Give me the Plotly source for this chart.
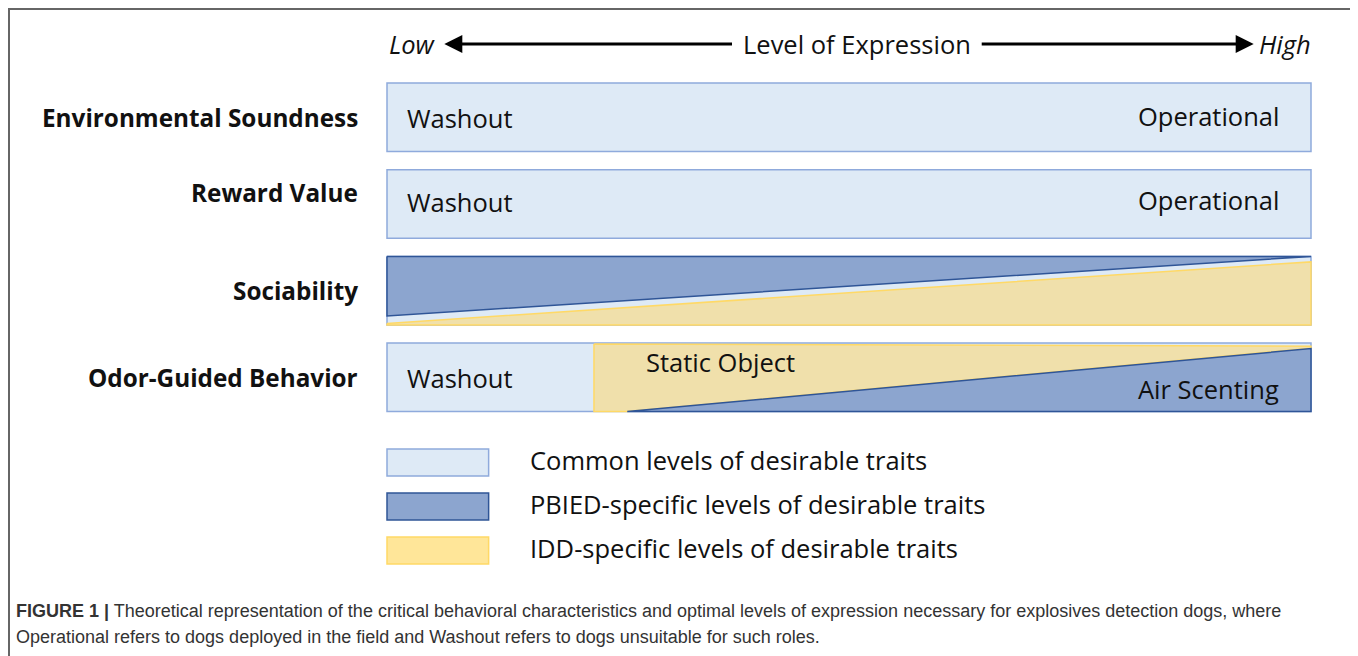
import plotly.graph_objects as go

# ---------------- data ----------------
rows = ["Environmental Soundness", "Reward Value", "Sociability", "Odor-Guided Behavior"]
low_labels = ["Washout", "Washout", "", "Washout"]
high_labels = ["Operational", "Operational", "", "Air Scenting"]
axis_labels = ["Low", "Level of Expression", "High"]

# Sociability: fraction of row height covered by each wedge at low (0) and high (1) expression
soc_pbied = [0.87, 0.0]    # blue wedge, hanging from the top
soc_idd = [0.02, 0.92]     # yellow wedge, standing on the bottom

# Odor-guided behaviour: washout until this level, then static object (IDD) / air scenting (PBIED)
odor_washout_end = 0.224
odor_pbied_start = 0.26
odor_idd_top = [1.0, 0.97]
odor_pbied = [0.0, 0.92]

legend_items = ["Common levels of desirable traits",
                "PBIED-specific levels of desirable traits",
                "IDD-specific levels of desirable traits"]

caption1 = ("<b>FIGURE 1 |</b> Theoretical representation of the critical behavioral characteristics and "
            "optimal levels of expression necessary for explosives detection dogs, where")
caption2 = "Operational refers to dogs deployed in the field and Washout refers to dogs unsuitable for such roles."

# ---------------- styles ----------------
OFF = 8                      # page body margin
W, H = 1358 - OFF, 656 - OFF
X0, X1 = 387 - OFF, 1311 - OFF
SPAN = X1 - X0
COMMON_FILL, COMMON_LINE = "#DEEAF6", "#8FAADC"
PBIED_FILL, PBIED_LINE = "#8CA5CF", "#2F5597"
IDD_FILL, IDD_LINE = "#F0E0AB", "#FFD966"
IDD_LEG_FILL = "#FFE699"
TXT = "#111111"
FONT = "Open Sans"
FS = 25.5

ROW_TOP0, ROW_STEP, ROW_H = 83 - OFF, 86.7, 68.5
label_dy = [0, -11, 0, 0]
low_dy = [1, -2, 0, 1]
high_dy = [-1, -4, 0, 12]

fig = go.Figure()
shapes = []
ann = []


def row_top(i):
    return ROW_TOP0 + i * ROW_STEP


def poly(xs, ys, fill, line, lw=1.5):
    fig.add_trace(go.Scatter(x=xs + [xs[0]], y=ys + [ys[0]], mode="lines", fill="toself",
                             fillcolor=fill, line=dict(color=line, width=lw),
                             hoverinfo="skip", showlegend=False))


for i, name in enumerate(rows):
    t = row_top(i)
    b = t + ROW_H
    c = t + ROW_H / 2
    # background "common" box
    shapes.append(dict(type="rect", xref="x", yref="y", x0=0, x1=1, y0=t, y1=b,
                       fillcolor=COMMON_FILL, line=dict(color=COMMON_LINE, width=1.5), layer="below"))
    ann.append(dict(x=-0.029, y=c + label_dy[i], xref="x", yref="y", text=f"<b>{name}</b>", showarrow=False,
                    xanchor="right", yanchor="middle", font=dict(family=FONT, size=24.3, color=TXT)))
    if name == "Sociability":
        poly([0, 1, 1, 0], [t, t, t + soc_pbied[1] * ROW_H, t + soc_pbied[0] * ROW_H], PBIED_FILL, PBIED_LINE)
        poly([0, 1, 1, 0], [b - soc_idd[0] * ROW_H, b - soc_idd[1] * ROW_H, b, b], IDD_FILL, IDD_LINE)
    elif name == "Odor-Guided Behavior":
        poly([odor_washout_end, 1, 1, odor_pbied_start, odor_washout_end],
             [b - odor_idd_top[0] * ROW_H + 1, b - odor_idd_top[1] * ROW_H + 1, b - odor_idd_top[1] * ROW_H + 3,
              b, b], IDD_FILL, IDD_LINE)
        poly([odor_pbied_start, 1, 1], [b, b - odor_pbied[1] * ROW_H, b], PBIED_FILL, PBIED_LINE)
        ann.append(dict(x=0.361, y=t + 19, xref="x", yref="y", text="Static Object", showarrow=False,
                        xanchor="center", yanchor="middle", font=dict(family=FONT, size=FS, color=TXT)))
    if low_labels[i]:
        ann.append(dict(x=0.02, y=c + low_dy[i], xref="x", yref="y", text=low_labels[i], showarrow=False,
                        xanchor="left", yanchor="middle", font=dict(family=FONT, size=FS, color=TXT)))
    if high_labels[i]:
        ann.append(dict(x=0.967, y=c + high_dy[i], xref="x", yref="y", text=high_labels[i], showarrow=False,
                        xanchor="right", yanchor="middle", font=dict(family=FONT, size=FS, color=TXT)))

# header: Low <---- Level of Expression ----> High
HY = 44 - OFF
ann.append(dict(x=0.0, y=HY, xref="x", yref="y", text=f"<i>{axis_labels[0]}</i>", showarrow=False,
                xanchor="left", yanchor="middle", font=dict(family=FONT, size=FS, color=TXT)))
ann.append(dict(x=1.002, y=HY, xref="x", yref="y", text=f"<i>{axis_labels[2]}</i>", showarrow=False,
                xanchor="right", yanchor="middle", font=dict(family=FONT, size=FS, color=TXT)))
ann.append(dict(x=0.509, y=HY, xref="x", yref="y", text=axis_labels[1], showarrow=False,
                xanchor="center", yanchor="middle", font=dict(family=FONT, size=FS, color=TXT)))
ann.append(dict(x=0.062, y=HY, ax=0.375, ay=HY, xref="x", yref="y", axref="x", ayref="y", text="",
                showarrow=True, arrowhead=2, arrowsize=1.2, arrowwidth=3, arrowcolor="black"))
ann.append(dict(x=0.938, y=HY, ax=0.642, ay=HY, xref="x", yref="y", axref="x", ayref="y", text="",
                showarrow=True, arrowhead=2, arrowsize=1.2, arrowwidth=3, arrowcolor="black"))

# legend
leg_styles = [(COMMON_FILL, COMMON_LINE), (PBIED_FILL, PBIED_LINE), (IDD_LEG_FILL, IDD_LINE)]
leg_tops = [449 - OFF, 493 - OFF, 537 - OFF]
for (fill, line), lt, txt in zip(leg_styles, leg_tops, legend_items):
    shapes.append(dict(type="rect", xref="x", yref="y", x0=0, x1=0.11, y0=lt, y1=lt + 27,
                       fillcolor=fill, line=dict(color=line, width=1.5)))
    ann.append(dict(x=0.153, y=lt + 11, xref="x", yref="y", text=txt, showarrow=False,
                    xanchor="left", yanchor="middle", font=dict(family=FONT, size=FS, color=TXT)))

# caption
for yy, txt in [(611 - OFF, caption1), (637 - OFF, caption2)]:
    ann.append(dict(x=6 / W, y=1 - yy / H, xref="paper", yref="paper", text=txt, showarrow=False,
                    xanchor="left", yanchor="middle",
                    font=dict(family="Liberation Sans", size=18, color="#333333")))

# outer frame (open at the bottom)
shapes.append(dict(type="path", xref="paper", yref="paper",
                   path=f"M {1/W} 0 L {1/W} {1-1/H} L {1347/W} {1-1/H} L {1347/W} 0",
                   line=dict(color="#666666", width=2)))

fig.update_layout(
    width=W, height=H, margin=dict(l=0, r=0, t=0, b=0),
    paper_bgcolor="white", plot_bgcolor="white",
    xaxis=dict(range=[-X0 / SPAN, (W - X0) / SPAN], visible=False, fixedrange=True),
    yaxis=dict(range=[H, 0], visible=False, fixedrange=True),
    shapes=shapes, annotations=ann, showlegend=False,
)

fig.write_html("out.html")
